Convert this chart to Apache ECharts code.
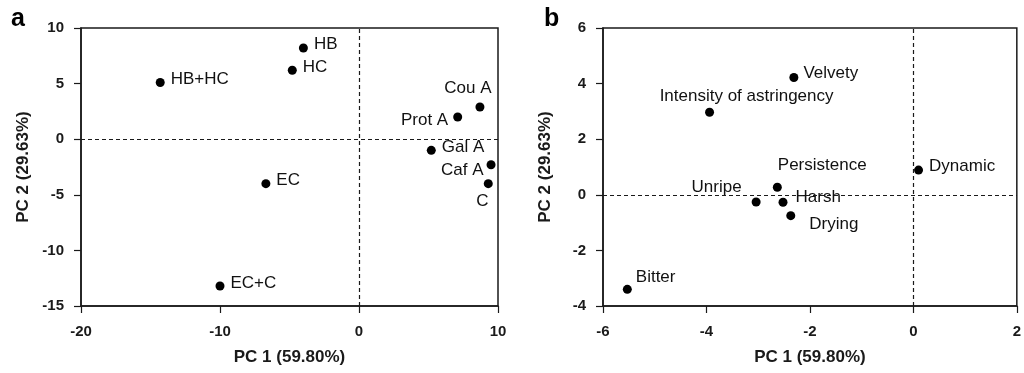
<!DOCTYPE html>
<html>
<head>
<meta charset="utf-8">
<script src="https://cdn.jsdelivr.net/npm/echarts@6/dist/echarts.min.js"></script>
<style>
  html, body { margin: 0; padding: 0; background: #fff; }
  #main { width: 1024px; height: 373px; }
</style>
</head>
<body>
<div id="main"></div>
<script>
// panel a: compounds
var namesA = ['HB', 'HC', 'HB+HC', 'Cou A', 'Prot A', 'Gal A', 'Caf A', 'C', 'EC', 'EC+C'];
var pc1A   = [-4.0, -4.8, -14.3, 8.7, 7.1, 5.2, 9.5, 9.3, -6.7, -10.0];
var pc2A   = [8.2, 6.2, 5.1, 2.9, 2.0, -1.0, -2.3, -4.0, -4.0, -13.2];

// panel b: sensory attributes
var namesB = ['Velvety', 'Intensity of astringency', 'Persistence', 'Unripe', 'Harsh', 'Drying', 'Dynamic', 'Bitter'];
var pc1B   = [-2.31, -3.94, -2.63, -3.04, -2.52, -2.37, 0.10, -5.53];
var pc2B   = [4.22, 2.97, 0.27, -0.26, -0.27, -0.75, 0.89, -3.40];

var ticksXA = [-20, -10, 0, 10];
var ticksYA = [-15, -10, -5, 0, 5, 10];
var ticksXB = [-6, -4, -2, 0, 2];
var ticksYB = [-4, -2, 0, 2, 4, 6];

// label placement (layout only)
var placeA = {
  'HB': ['right', [1, -4]], 'HC': ['right', [1, -3]], 'HB+HC': ['right', [1, -3]],
  'Cou A': ['top', [-12, -1]], 'Prot A': ['left', [0, 3]], 'Gal A': ['right', [1, -3]],
  'Caf A': ['left', [2, 6]], 'C': ['bottom', [-6, 0]], 'EC': ['right', [1, -3]],
  'EC+C': ['right', [1, -3]]
};
var placeB = {
  'Velvety': ['right', [0, -4]], 'Intensity of astringency': ['top', [37, 2]],
  'Persistence': ['right', [-9, -22]], 'Unripe': ['left', [-5, -15]],
  'Harsh': ['right', [3, -5]], 'Drying': ['right', [9, 9]],
  'Dynamic': ['right', [1, -4]], 'Bitter': ['right', [-1, -12]]
};

var ink = '#1a1a1a';
var font = 'Liberation Sans, Arial, sans-serif';

function points(names, xs, ys, place) {
  return names.map(function (n, i) {
    return {
      name: n,
      value: [xs[i], ys[i]],
      label: { position: place[n][0], offset: place[n][1] }
    };
  });
}

function xAxisOf(idx, ticks, title) {
  return {
    gridIndex: idx, type: 'value',
    min: ticks[0], max: ticks[ticks.length - 1], interval: ticks[1] - ticks[0],
    name: title, nameLocation: 'middle', nameGap: 43,
    nameTextStyle: { fontFamily: font, fontSize: 17, fontWeight: 'bold', color: ink },
    axisLine: { onZero: false, lineStyle: { color: ink, width: 1.5 } },
    axisTick: { length: 7, lineStyle: { color: ink, width: 1.2 } },
    axisLabel: { margin: 18, fontFamily: font, fontSize: 15, fontWeight: 'bold', color: ink },
    splitLine: { show: false }
  };
}
function yAxisOf(idx, ticks, title) {
  return {
    gridIndex: idx, type: 'value',
    min: ticks[0], max: ticks[ticks.length - 1], interval: ticks[1] - ticks[0],
    name: title, nameLocation: 'middle', nameGap: 49,
    nameTextStyle: { fontFamily: font, fontSize: 17, fontWeight: 'bold', color: ink },
    axisLine: { onZero: false, lineStyle: { color: ink, width: 1.5 } },
    axisTick: { length: 7, lineStyle: { color: ink, width: 1.2 } },
    axisLabel: { margin: 17, fontFamily: font, fontSize: 15, fontWeight: 'bold', color: ink },
    splitLine: { show: false }
  };
}

function scatterOf(idx, data) {
  return {
    type: 'scatter', xAxisIndex: idx, yAxisIndex: idx,
    symbol: 'circle', symbolSize: 9,
    itemStyle: { color: '#000', opacity: 1 },
    label: {
      show: true, formatter: '{b}', distance: 5,
      fontFamily: font, fontSize: 17, color: '#111'
    },
    data: data,
    markLine: {
      silent: true, symbol: 'none', animation: false,
      label: { show: false },
      lineStyle: { color: ink, type: [4, 3], width: 1.2 },
      data: [{ xAxis: 0 }, { yAxis: 0 }]
    }
  };
}

var chart = echarts.init(document.getElementById('main'));
chart.setOption({
  animation: false,
  backgroundColor: '#fff',
  grid: [
    { left: 81, top: 28, width: 417, height: 278, show: true, borderColor: ink, borderWidth: 1.5 },
    { left: 603, top: 28, width: 416, height: 278, show: true, borderColor: ink, borderWidth: 1.5 }
  ],
  xAxis: [xAxisOf(0, ticksXA, 'PC 1 (59.80%)'), xAxisOf(1, ticksXB, 'PC 1 (59.80%)')],
  yAxis: [yAxisOf(0, ticksYA, 'PC 2 (29.63%)'), yAxisOf(1, ticksYB, 'PC 2 (29.63%)')],
  graphic: [
    { type: 'text', left: 11, top: 7, style: { text: 'a', font: 'bold 25px ' + font, fill: '#000' } },
    { type: 'text', left: 544, top: 7, style: { text: 'b', font: 'bold 25px ' + font, fill: '#000' } }
  ],
  series: [
    scatterOf(0, points(namesA, pc1A, pc2A, placeA)),
    scatterOf(1, points(namesB, pc1B, pc2B, placeB))
  ]
});
</script>
</body>
</html>
